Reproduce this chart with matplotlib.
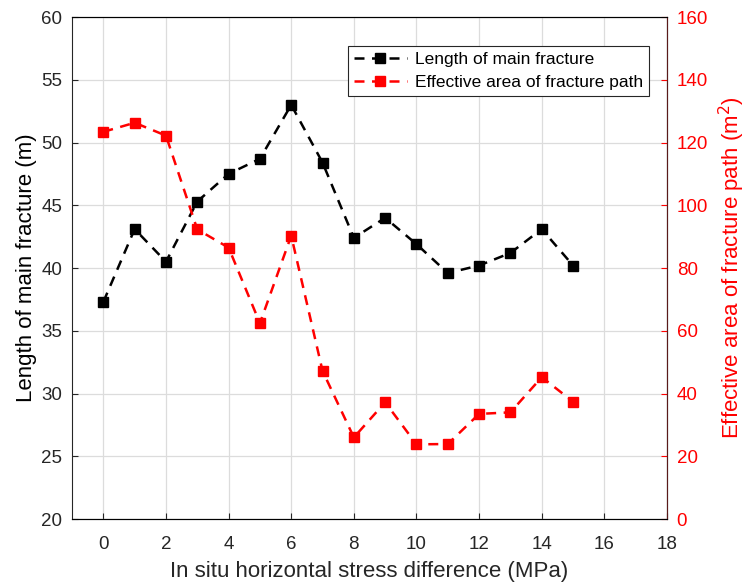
import matplotlib.pyplot as plt

plt.rcParams['font.family'] = ['Liberation Sans', 'DejaVu Sans']

stress_diff = [0, 1, 2, 3, 4, 5, 6, 7, 8, 9, 10, 11, 12, 13, 14, 15]
main_length = [37.3, 43.1, 40.5, 45.3, 47.5, 48.7, 53.0, 48.4, 42.4, 44.0,
               41.9, 39.6, 40.2, 41.2, 43.1, 40.2]
eff_area = [123.4, 126.3, 122.2, 92.3, 86.5, 62.4, 90.3, 47.2, 26.0, 37.2,
            23.8, 23.9, 33.5, 34.0, 45.2, 37.4]

fig = plt.figure(figsize=(7.48, 5.85), dpi=100)
ax = fig.add_axes([0.0963, 0.1128, 0.7954, 0.8581])
ax2 = ax.twinx()

l1, = ax.plot(stress_diff, main_length, 'k--s', lw=1.8, ms=7, dashes=(4, 3),
              label='Length of main fracture')
l2, = ax2.plot(stress_diff, eff_area, color='red', ls='--', marker='s', lw=1.8,
               ms=7, dashes=(4, 3), label='Effective area of fracture path')

ax.set_xlim(-1, 18)
ax.set_ylim(20, 60)
ax.set_xticks(range(0, 19, 2))
ax.set_yticks(range(20, 61, 5))
ax2.set_ylim(0, 160)
ax2.set_yticks(range(0, 161, 20))

ax.grid(True, color='#dcdcdc', lw=0.9)
ax.set_axisbelow(True)

ax.tick_params(direction='in', labelsize=13.5, colors='#262626', length=4)
ax.tick_params(axis='x', pad=12)
ax.tick_params(axis='y', pad=7)
ax2.tick_params(direction='in', labelsize=13.5, colors='red', length=4, pad=7)
for s in ax.spines.values():
    s.set_color('#262626')
ax2.spines['right'].set_color('#5a1a1a')
ax2.spines['left'].set_visible(False)

ax.set_xlabel('In situ horizontal stress difference (MPa)', fontsize=16,
              color='#262626', labelpad=6)
ax.set_ylabel('Length of main fracture (m)', fontsize=16, color='black',
              labelpad=3)
ax2.set_ylabel('Effective area of fracture path (m$^2$)', fontsize=16,
               color='red', labelpad=6)

leg = ax.legend([l1, l2], [l1.get_label(), l2.get_label()], loc='upper right',
                bbox_to_anchor=(0.985, 0.96), fontsize=12.5, fancybox=False,
                edgecolor='#262626', framealpha=1, handlelength=3,
                borderpad=0.35, labelspacing=0.45, handletextpad=0.5)
leg.get_frame().set_linewidth(0.8)

fig.savefig('out.png', dpi=100)
